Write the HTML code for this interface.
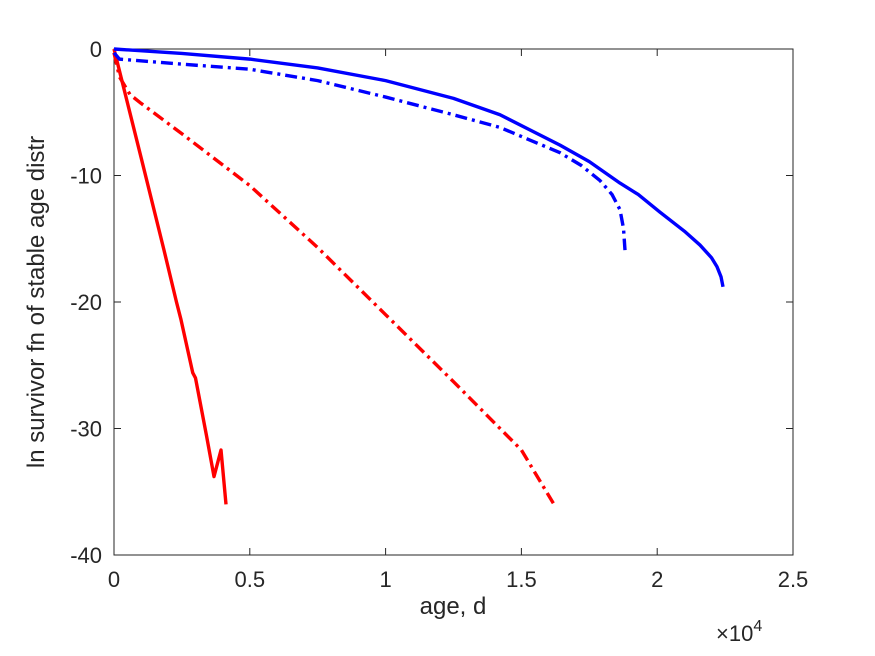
<!DOCTYPE html>
<html><head><meta charset="utf-8"><style>
body{margin:0;background:#fff;}
svg{display:block;font-family:"Liberation Sans",Arial,sans-serif;}
</style></head><body>
<svg id="chart" width="875" height="656">
<rect width="875" height="656" fill="#fff"/>
<g id="axes"></g>
<g id="series"></g>
<text x="453" y="614" font-size="24" text-anchor="middle" fill="#262626">age, d</text>
<text transform="translate(44,302) rotate(-90)" font-size="24" text-anchor="middle" fill="#262626">ln survivor fn of stable age distr</text>
<text x="716" y="641" font-size="22" fill="#262626">×10<tspan dy="-10" font-size="16">4</tspan></text>
</svg>
<script>
const xTicks=[0,5000,10000,15000,20000,25000];
const xTickLabels=["0","0.5","1","1.5","2","2.5"];
const yTicks=[0,-10,-20,-30,-40];
const yTickLabels=["0","-10","-20","-30","-40"];
const redSolidX=[0,500,1000,1841,2300,2467,2900,3000,3400,3682,3940,4124];
const redSolidY=[0,-4.3,-8.6,-15.9,-20.0,-21.4,-25.6,-26.0,-30.5,-33.8,-31.7,-36.0];
const redDashX=[0,200,589,1000,2500,5000,7500,10000,12500,15000,16200];
const redDashY=[-0.3,-2.2,-3.6,-4.3,-6.7,-10.8,-15.7,-21,-26.3,-31.7,-36];
const blueSolidX=[0,2500,5000,7500,10000,12500,14212,16421,17500,18630,19300,20103,21000,21576,22000,22200,22349,22423];
const blueSolidY=[0,-0.35,-0.8,-1.5,-2.5,-3.9,-5.2,-7.6,-8.9,-10.6,-11.5,-12.9,-14.4,-15.5,-16.5,-17.2,-18.0,-18.8];
const blueDashX=[0,200,2500,5000,7500,10000,12500,14212,16421,17200,17894,18336,18630,18760,18814];
const blueDashY=[-0.3,-0.8,-1.2,-1.6,-2.5,-3.8,-5.2,-6.2,-8.2,-9.2,-10.4,-11.5,-12.7,-14.2,-15.9];
const L=114,R=793,T=49,B=555;
const xs=v=>L+(v/25000)*(R-L);
const ys=v=>T+(-v/40)*(B-T);
const NS="http://www.w3.org/2000/svg";
const axes=document.getElementById('axes');
const box=document.createElementNS(NS,'rect');
box.setAttribute('x',L);box.setAttribute('y',T);box.setAttribute('width',R-L);box.setAttribute('height',B-T);
box.setAttribute('fill','none');box.setAttribute('stroke','#262626');box.setAttribute('stroke-width','1');


axes.appendChild(box);
xTicks.forEach((t,i)=>{
  const x=xs(t);
  const l=document.createElementNS(NS,'path');
  l.setAttribute('d',`M${x},${B}V${B-7}M${x},${T}V${T+7}`);l.setAttribute('stroke','#262626');
  
  
  axes.appendChild(l);
  const tx=document.createElementNS(NS,'text');
  tx.setAttribute('x',x);tx.setAttribute('y',B+32);tx.setAttribute('font-size','22');tx.setAttribute('text-anchor','middle');tx.setAttribute('fill','#262626');
  tx.textContent=xTickLabels[i];
  
  
  axes.appendChild(tx);
});
yTicks.forEach((t,i)=>{
  const y=ys(t);
  const l=document.createElementNS(NS,'path');
  l.setAttribute('d',`M${L},${y}H${L+7}M${R},${y}H${R-7}`);l.setAttribute('stroke','#262626');
  
  
  axes.appendChild(l);
  const tx=document.createElementNS(NS,'text');
  tx.setAttribute('x',L-12);tx.setAttribute('y',y+8);tx.setAttribute('font-size','22');tx.setAttribute('text-anchor','end');tx.setAttribute('fill','#262626');
  tx.textContent=yTickLabels[i];
  
  
  axes.appendChild(tx);
});
const series=document.getElementById('series');
function line(X,Y,color,dash,name){
  const p=document.createElementNS(NS,'polyline');
  p.setAttribute('points',X.map((x,i)=>xs(x)+','+ys(Y[i])).join(' '));
  p.setAttribute('fill','none');p.setAttribute('stroke',color);p.setAttribute('stroke-width','3.4');
  p.setAttribute('stroke-linejoin','round');
  if(dash)p.setAttribute('stroke-dasharray',dash);
  
  
  series.appendChild(p);
}
line(redSolidX,redSolidY,'#ff0000',null,'red-solid-line');
line(redDashX,redDashY,'#ff0000','12,5,3,5','red-dashdot-line');
line(blueSolidX,blueSolidY,'#0000ff',null,'blue-solid-line');
line(blueDashX,blueDashY,'#0000ff','12,5,3,5','blue-dashdot-line');
</script>
</body></html>
